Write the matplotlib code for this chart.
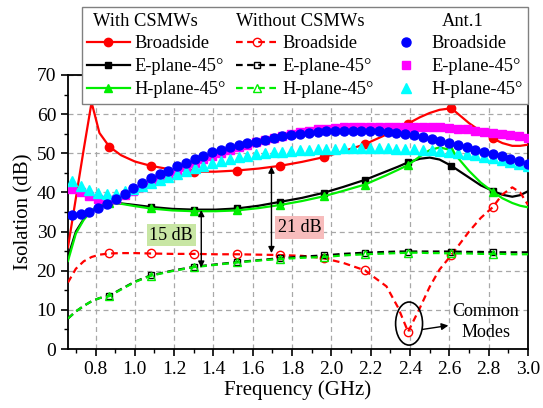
import numpy as np
import matplotlib
matplotlib.use("Agg")
import matplotlib.pyplot as plt
from matplotlib.lines import Line2D
from matplotlib.patches import Ellipse
from matplotlib.ticker import MultipleLocator

plt.rcParams['font.family'] = ['Liberation Serif', 'DejaVu Serif']

# frequency grid of the simulated curves (GHz)
f_line = [0.66, 0.70, 0.74, 0.78, 0.82, 0.87, 0.93, 1.00, 1.08, 1.19, 1.30, 1.41,
          1.52, 1.63, 1.74, 1.85, 1.96, 2.06, 2.17, 2.28, 2.34, 2.39, 2.45, 2.50,
          2.55, 2.61, 2.70, 2.76, 2.82, 2.87, 2.92, 2.96, 3.00]
mark_f = [0.87, 1.08, 1.30, 1.52, 1.74, 1.96, 2.17, 2.39, 2.61, 2.82]

# With CSMWs
with_broad = [26.0, 38.5, 51.0, 63.0, 55.2, 51.7, 49.5, 47.9, 46.8, 45.8, 45.3, 45.3,
              45.6, 46.1, 46.8, 47.8, 49.0, 50.5, 52.3, 54.8, 56.3, 57.6, 59.2, 60.3,
              61.1, 61.5, 57.7, 55.6, 53.8, 52.6, 51.9, 51.9, 52.2]
with_e = [23.5, 30.0, 33.2, 35.3, 36.6, 37.3, 37.2, 36.8, 36.3, 35.8, 35.6, 35.6,
          35.9, 36.6, 37.6, 38.6, 39.9, 41.4, 43.2, 45.4, 46.6, 47.7, 48.6, 48.9,
          48.4, 46.8, 43.8, 41.8, 40.4, 39.4, 38.9, 39.3, 40.3]
with_h = [22.5, 29.5, 33.0, 35.4, 36.8, 37.4, 37.1, 36.5, 35.9, 35.4, 35.2, 35.2,
          35.4, 36.0, 36.8, 37.8, 39.0, 40.4, 42.0, 44.4, 45.8, 47.0, 49.2, 50.8,
          51.5, 50.8, 45.5, 42.5, 40.2, 38.5, 37.3, 36.6, 36.2]

# Without CSMWs
wo_broad = [17.0, 20.5, 22.4, 23.5, 24.1, 24.4, 24.5, 24.5, 24.4, 24.3, 24.3, 24.2,
            24.2, 24.1, 24.0, 23.8, 23.2, 22.0, 20.1, 16.0, 10.5, 4.4, 10.5, 15.9,
            20.3, 24.0, 30.0, 33.5, 36.2, 39.5, 41.3, 40.0, 36.8]
wo_e = [7.8, 9.6, 11.0, 12.2, 13.0, 13.6, 15.3, 17.2, 18.8, 20.0, 21.0, 21.6,
        22.2, 22.7, 23.2, 23.6, 23.9, 24.3, 24.6, 24.8, 24.9, 24.9, 24.9, 24.9,
        24.9, 24.9, 24.8, 24.8, 24.7, 24.7, 24.7, 24.7, 24.7]
wo_h = [7.8, 9.6, 11.0, 12.2, 13.0, 13.5, 15.2, 17.1, 18.7, 19.9, 20.9, 21.5,
        22.1, 22.6, 23.0, 23.3, 23.5, 23.9, 24.2, 24.4, 24.5, 24.6, 24.6, 24.5,
        24.5, 24.4, 24.4, 24.3, 24.3, 24.3, 24.2, 24.2, 24.2]

# Ant.1 (53 sample points)
f_ant = np.linspace(0.68, 3.0, 53)
ant_broad = [34.3, 34.4, 35.0, 35.9, 37.0, 38.4, 39.7, 41.2, 42.4, 43.6, 44.6, 45.6,
             46.7, 47.6, 48.5, 49.4, 50.2, 50.9, 51.5, 52.0, 52.5, 53.0, 53.4, 53.9,
             54.3, 54.7, 55.0, 55.3, 55.5, 55.6, 55.7, 55.7, 55.7, 55.7, 55.6, 55.6,
             55.5, 55.3, 55.0, 54.6, 54.1, 53.6, 53.1, 52.6, 52.1, 51.5, 50.9, 50.3,
             49.8, 49.2, 48.6, 48.0, 47.3]
ant_e = [41.0, 40.0, 39.0, 38.3, 38.0, 38.4, 39.3, 40.4, 41.5, 42.6, 43.6, 44.6,
         45.6, 46.6, 47.5, 48.5, 49.3, 50.1, 50.8, 51.5, 52.2, 52.8, 53.4, 54.0,
         54.5, 55.0, 55.4, 55.8, 56.1, 56.3, 56.5, 56.6, 56.7, 56.8, 56.8, 56.8,
         56.8, 56.8, 56.8, 56.8, 56.7, 56.7, 56.6, 56.5, 56.3, 56.1, 55.8, 55.5,
         55.2, 54.9, 54.6, 54.3, 54.0]
ant_h = [42.8, 41.6, 40.7, 39.9, 39.5, 39.7, 40.3, 41.0, 41.7, 42.4, 43.2, 44.0,
         44.8, 45.5, 46.2, 46.8, 47.4, 48.0, 48.6, 49.1, 49.4, 49.7, 50.0, 50.2,
         50.4, 50.6, 50.8, 50.9, 51.0, 51.1, 51.2, 51.3, 51.3, 51.3, 51.3, 51.3,
         51.3, 51.2, 51.1, 51.0, 50.9, 50.8, 50.6, 50.4, 50.1, 49.8, 49.5, 49.1,
         48.7, 48.3, 47.8, 47.3, 46.8]

RED, GREEN, BLUE, MAG, CYAN = '#ff0000', '#00ee00', '#0000ff', '#ff00ff', '#00ffff'
dash = (0, (3, 2))
idx = [f_line.index(f) for f in mark_f]

fig = plt.figure(figsize=(5.43, 4.08), dpi=100)
ax = fig.add_axes([0.1252, 0.1446, 0.8472, 0.6716])

# solid: with CSMWs
ax.plot(f_line, with_broad, color=RED, lw=1.6, marker='o', ms=6, markevery=idx, zorder=3)
ax.plot(f_line, with_e, color='black', lw=1.6, marker='s', ms=5, markevery=idx, zorder=3)
ax.plot(f_line, with_h, color=GREEN, lw=1.6, marker='^', ms=6, markevery=idx, zorder=3)
# dashed: without CSMWs
ax.plot(f_line, wo_broad, color=RED, lw=1.6, ls=dash, marker='o', ms=6, mfc='none',
        markevery=idx, zorder=3)
ax.plot(f_line, wo_e, color='black', lw=1.6, ls=dash, marker='s', ms=5, mfc='none',
        markevery=idx, zorder=3)
ax.plot(f_line, wo_h, color=GREEN, lw=1.6, ls=dash, marker='^', ms=6, mfc='none',
        markevery=idx, zorder=3)
# Ant.1
ax.plot(f_ant, ant_e, ls='none', marker='s', ms=5.5, color=MAG, zorder=4)
ax.plot(f_ant, ant_h, ls='none', marker='^', ms=6.5, color=CYAN, zorder=4)
ax.plot(f_ant, ant_broad, ls='none', marker='o', ms=6.5, color=BLUE, zorder=4)

ax.set_xlim(0.66, 3.0)
ax.set_ylim(0, 70)
ax.xaxis.set_major_locator(MultipleLocator(0.2))
ax.xaxis.set_minor_locator(MultipleLocator(0.1))
ax.yaxis.set_major_locator(MultipleLocator(10))
ax.yaxis.set_minor_locator(MultipleLocator(5))
ax.tick_params(which='major', direction='out', length=5, width=1.2, labelsize=14)
ax.tick_params(which='minor', direction='out', length=3, width=1.0)
ax.grid(True, which='major', color='#a8a8a8', ls=(0, (4, 3)), lw=0.9)
for s in ax.spines.values():
    s.set_linewidth(1.3)
ax.set_xlabel('Frequency (GHz)', fontsize=15, labelpad=2)
ax.set_ylabel('Isolation (dB)', fontsize=15, labelpad=2)

# annotations
arrow = dict(arrowstyle='<|-|>', color='black', lw=1.0, mutation_scale=9,
             shrinkA=0, shrinkB=0)
ax.annotate('', xy=(1.338, 35.5), xytext=(1.338, 20.8), arrowprops=arrow, zorder=5)
ax.annotate('', xy=(1.695, 46.6), xytext=(1.695, 24.5), arrowprops=arrow, zorder=5)
ax.text(1.185, 29.1, '15 dB', fontsize=13, ha='center', va='center', zorder=5,
        bbox=dict(boxstyle='square,pad=0.15', fc='#c8e6a4', ec='none'))
ax.text(1.84, 31.0, '21 dB', fontsize=13, ha='center', va='center', zorder=5,
        bbox=dict(boxstyle='square,pad=0.15', fc='#f7bcbc', ec='none'))
ax.add_patch(Ellipse((2.395, 6.5), 0.137, 11, fill=False, ec='black', lw=1.2, zorder=5))
ax.annotate('', xy=(2.595, 6.0), xytext=(2.463, 5.0),
            arrowprops=dict(arrowstyle='-|>', color='black', lw=1.0, mutation_scale=10,
                            shrinkA=0, shrinkB=0), zorder=5)
ax.text(2.785, 9.5, 'Common', fontsize=13, ha='center', va='center', zorder=6)
ax.text(2.785, 4.1, 'Modes', fontsize=13, ha='center', va='center', zorder=6)

# legend: 3 columns, first row reserved for headers
blank = Line2D([], [], ls='none')
handles = [
    blank,
    Line2D([], [], color=RED, lw=1.6, marker='o', ms=6),
    Line2D([], [], color='black', lw=1.6, marker='s', ms=5),
    Line2D([], [], color=GREEN, lw=1.6, marker='^', ms=6),
    blank,
    Line2D([], [], color=RED, lw=1.6, ls=dash, marker='o', ms=6, mfc='none'),
    Line2D([], [], color='black', lw=1.6, ls=dash, marker='s', ms=5, mfc='none'),
    Line2D([], [], color=GREEN, lw=1.6, ls=dash, marker='^', ms=6, mfc='none'),
    blank,
    Line2D([], [], ls='none', color=BLUE, marker='o', ms=6.5),
    Line2D([], [], ls='none', color=MAG, marker='s', ms=5.5),
    Line2D([], [], ls='none', color=CYAN, marker='^', ms=6.5),
]
labels = [' ', 'Broadside', 'E-plane-45°', 'H-plane-45°'] * 3
leg = fig.legend(handles, labels, ncol=3, loc='upper center',
                 bbox_to_anchor=(0.5617, 0.983), fontsize=13.3, frameon=True,
                 fancybox=False, edgecolor='#808080', framealpha=1,
                 handlelength=2.3, handletextpad=0.25, columnspacing=0.55,
                 labelspacing=0.32, borderpad=0.3, borderaxespad=0)
leg.get_frame().set_linewidth(1.0)
leg.set_zorder(10)

fig.text(93 / 543, 1 - 21 / 408, 'With CSMWs', fontsize=13.3, ha='left', va='center', zorder=11)
fig.text(236 / 543, 1 - 21 / 408, 'Without CSMWs', fontsize=13.3, ha='left', va='center', zorder=11)
fig.text(463 / 543, 1 - 21 / 408, 'Ant.1', fontsize=13.3, ha='center', va='center', zorder=11)

fig.savefig('out.png', dpi=100)
